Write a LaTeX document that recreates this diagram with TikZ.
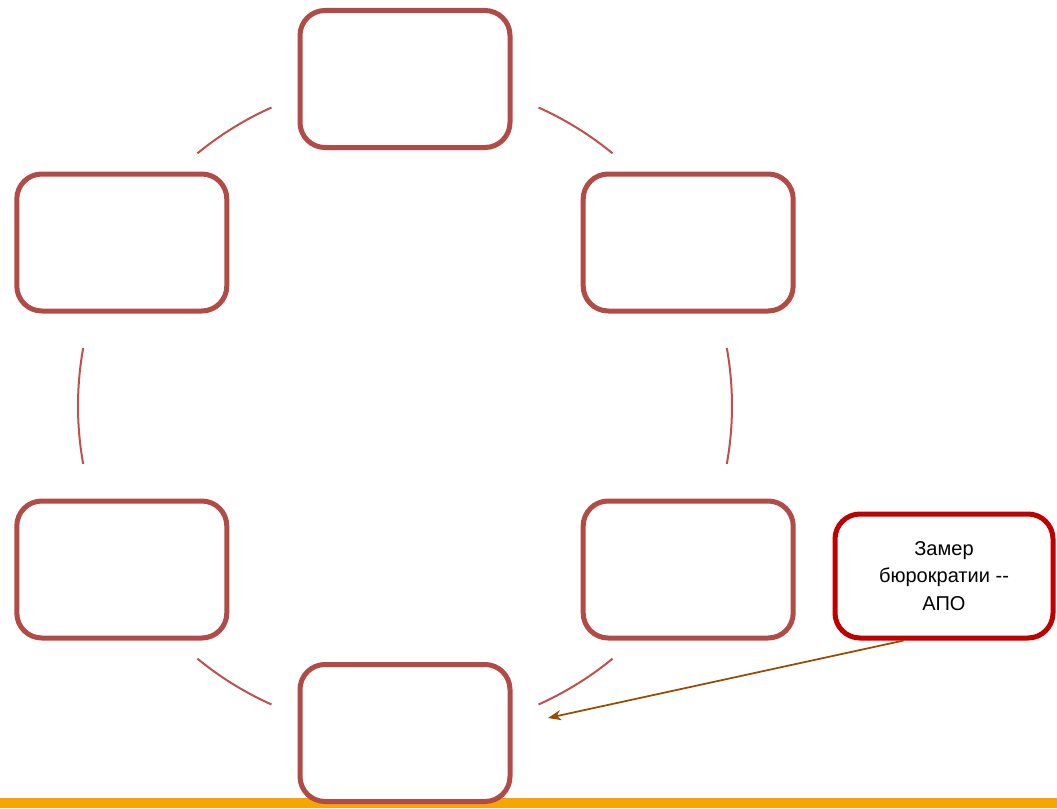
\documentclass[tikz,border=0pt]{standalone}
\usepackage{fontspec}
\setmainfont{Liberation Sans}
\usepackage{tikz}
\usetikzlibrary{calc}
\usetikzlibrary{arrows.meta}
\definecolor{boxred}{RGB}{178,74,70}
\definecolor{arcred}{RGB}{192,80,77}
\definecolor{calloutred}{RGB}{192,0,0}
\definecolor{arrowbrown}{RGB}{153,76,0}
\definecolor{barorange}{RGB}{247,166,0}
\tikzset{
    stage/.style={draw=boxred,line width=0.1cm,rounded corners=0.5cm,fill=white,minimum width=4.2cm,minimum height=2.74cm},
    callout/.style={draw=calloutred,line width=0.1cm,rounded corners=0.5cm,fill=white,minimum width=4.36cm,minimum height=2.48cm,align=center,font=\fontsize{11.4}{15.6}\selectfont}
}
\begin{document}
\begin{tikzpicture}
            \useasboundingbox (-8.1,-8.04) rectangle (13.04,8.12);
            \fill[barorange] (-8.1,-8.04) rectangle (13.04,-7.84);
            \coordinate (O) at (0,0);
            \foreach \a/\b in {65.9/50.6,114.1/129.4,169.8/190.2,-10.2/10.2,230.6/245.9,294.1/309.4}
                \draw[arcred,line width=0.04cm] (O) ++(\a:6.54) arc (\a:\b:6.54);
            \node[stage] (top) at (90:6.54) {};
            \node[stage] (upleft) at (150:6.54) {};
            \node[stage] (upright) at (30:6.54) {};
            \node[stage] (lowleft) at (210:6.54) {};
            \node[stage] (lowright) at (330:6.54) {};
            \node[stage] (bottom) at (270:6.54) {};
            \node[callout] (apo) at (10.78,-3.40) {Замер\\бюрократии -\/-\\АПО};
            \coordinate (tip) at (2.86,-6.24);
            \draw[arrowbrown,line width=0.035cm,-{Stealth[length=0.26cm,width=0.2cm,inset=0.08cm]}] (apo.238) -- (tip);
        \end{tikzpicture}
\end{document}
